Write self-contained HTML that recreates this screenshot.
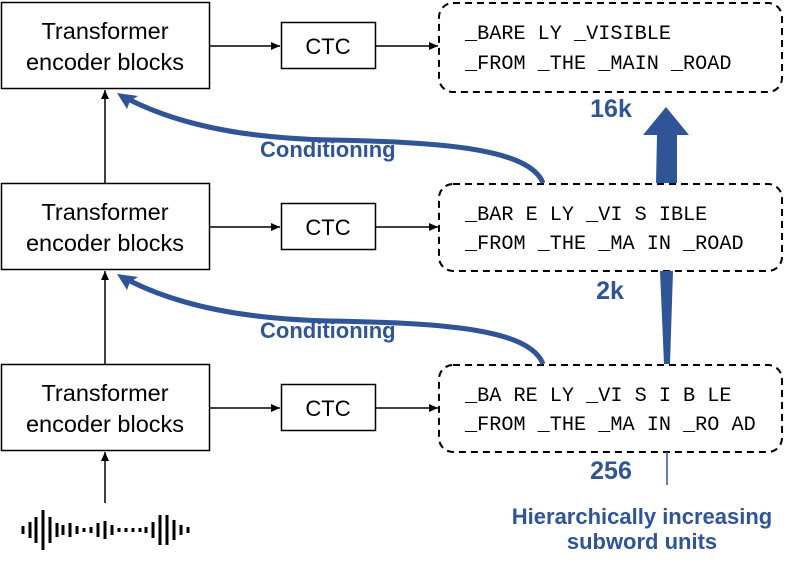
<!DOCTYPE html>
<html><head><meta charset="utf-8"><style>
body{margin:0;background:#fff}
svg{display:block}
.t{font-family:"Liberation Sans",sans-serif;font-size:23.5px;fill:#000}
.c{font-family:"Liberation Sans",sans-serif;font-size:22px;fill:#000}
.m{font-family:"Liberation Mono",monospace;font-size:20.2px;fill:#000}
.b{font-family:"Liberation Sans",sans-serif;font-weight:bold;fill:#2F5597}
</style></head><body>
<svg width="789" height="573" viewBox="0 0 789 573" xmlns="http://www.w3.org/2000/svg">
<defs>
<marker id="a" markerWidth="10" markerHeight="10" refX="9" refY="5" orient="auto" markerUnits="userSpaceOnUse"><path d="M0,1 L9,5 L0,9 Z" fill="#000"/></marker>
</defs>
<g fill="#fff" stroke="#000" stroke-width="1.5">
<rect x="1.5" y="2.5" width="208" height="86"/>
<rect x="1.5" y="183.5" width="208" height="86"/>
<rect x="1.5" y="364.5" width="208" height="86"/>
<rect x="281.5" y="22.5" width="94" height="46"/>
<rect x="281.5" y="203.5" width="94" height="46"/>
<rect x="281.5" y="384.5" width="94" height="46"/>
</g>
<g fill="none" stroke="#000" stroke-width="2" stroke-dasharray="7,5">
<rect x="439" y="3" width="343" height="89" rx="14"/>
<rect x="439" y="184" width="343" height="87" rx="14"/>
<rect x="439" y="365" width="343" height="87" rx="14"/>
</g>
<g stroke="#000" stroke-width="1.5" marker-end="url(#a)">
<line x1="210" y1="46" x2="280" y2="46"/>
<line x1="376" y1="46" x2="438" y2="46"/>
<line x1="210" y1="227" x2="280" y2="227"/>
<line x1="376" y1="227" x2="438" y2="227"/>
<line x1="210" y1="408" x2="280" y2="408"/>
<line x1="376" y1="408" x2="438" y2="408"/>
<line x1="105" y1="183" x2="105" y2="90"/>
<line x1="105" y1="364" x2="105" y2="271"/>
<line x1="105" y1="503" x2="105" y2="452"/>
</g>
<text class="t" text-anchor="middle" x="105" y="39">Transformer</text>
<text class="t" text-anchor="middle" x="105" y="70">encoder blocks</text>
<text class="t" text-anchor="middle" x="105" y="220">Transformer</text>
<text class="t" text-anchor="middle" x="105" y="251">encoder blocks</text>
<text class="t" text-anchor="middle" x="105" y="401">Transformer</text>
<text class="t" text-anchor="middle" x="105" y="432">encoder blocks</text>
<text class="c" text-anchor="middle" x="328" y="54">CTC</text>
<text class="c" text-anchor="middle" x="328" y="235">CTC</text>
<text class="c" text-anchor="middle" x="328" y="416">CTC</text>
<text class="m" x="465" y="39">_BARE LY _VISIBLE</text>
<text class="m" x="465" y="69">_FROM _THE _MAIN _ROAD</text>
<text class="m" x="465" y="220">_BAR E LY _VI S IBLE</text>
<text class="m" x="465" y="249">_FROM _THE _MA IN _ROAD</text>
<text class="m" x="465" y="401">_BA RE LY _VI S I B LE</text>
<text class="m" x="465" y="430">_FROM _THE _MA IN _RO AD</text>
<g fill="none" stroke="#2F5597" stroke-width="5">
<path d="M543,183 C530,150 450,142 330,140 C230,138 170,120 130,100"/>
<path d="M543,364 C530,330 450,323 330,321 C230,319 170,301 130,281"/>
</g>
<path d="M117,93 L138,96 L130,101 L127,109 Z" fill="#2F5597"/>
<path d="M117,274 L138,277 L130,282 L127,290 Z" fill="#2F5597"/>
<text class="b" x="260" y="157" font-size="22">Conditioning</text>
<text class="b" x="260" y="338" font-size="22">Conditioning</text>
<path d="M656,183 L657,135 L643,135 L666,107 L689,135 L677,135 L677,183 Z" fill="#2F5597"/>
<path d="M660,271 L673,271 L670,364 L664,364 Z" fill="#2F5597"/>
<line x1="667" y1="452" x2="667" y2="485" stroke="#2F5597" stroke-width="1.5"/>
<text class="b" x="611" y="117" font-size="25" text-anchor="middle">16k</text>
<text class="b" x="610" y="299" font-size="25" text-anchor="middle">2k</text>
<text class="b" x="611" y="479" font-size="25" text-anchor="middle">256</text>
<text class="b" x="642" y="524" font-size="22" text-anchor="middle">Hierarchically increasing</text>
<text class="b" x="642" y="549" font-size="22" text-anchor="middle">subword units</text>
<g stroke="#000" stroke-width="3">
<line x1="23" y1="526" x2="23" y2="534"/>
<line x1="30" y1="522" x2="30" y2="538"/>
<line x1="36" y1="517" x2="36" y2="543"/>
<line x1="43" y1="510" x2="43" y2="550"/>
<line x1="50" y1="517" x2="50" y2="543"/>
<line x1="57" y1="523" x2="57" y2="537"/>
<line x1="63" y1="525" x2="63" y2="535"/>
<line x1="70" y1="523" x2="70" y2="537"/>
<line x1="77" y1="526" x2="77" y2="534"/>
<line x1="84" y1="528" x2="84" y2="532"/>
<line x1="91" y1="527" x2="91" y2="533"/>
<line x1="98" y1="523" x2="98" y2="537"/>
<line x1="105" y1="521" x2="105" y2="539"/>
<line x1="112" y1="525" x2="112" y2="535"/>
<line x1="119" y1="528" x2="119" y2="532"/>
<line x1="126" y1="528" x2="126" y2="532"/>
<line x1="133" y1="528" x2="133" y2="532"/>
<line x1="140" y1="528" x2="140" y2="532"/>
<line x1="146" y1="527" x2="146" y2="533"/>
<line x1="153" y1="522" x2="153" y2="538"/>
<line x1="160" y1="515" x2="160" y2="545"/>
<line x1="167" y1="515" x2="167" y2="545"/>
<line x1="174" y1="520" x2="174" y2="540"/>
<line x1="181" y1="525" x2="181" y2="535"/>
<line x1="188" y1="527" x2="188" y2="533"/>
</g>
</svg>
</body></html>
